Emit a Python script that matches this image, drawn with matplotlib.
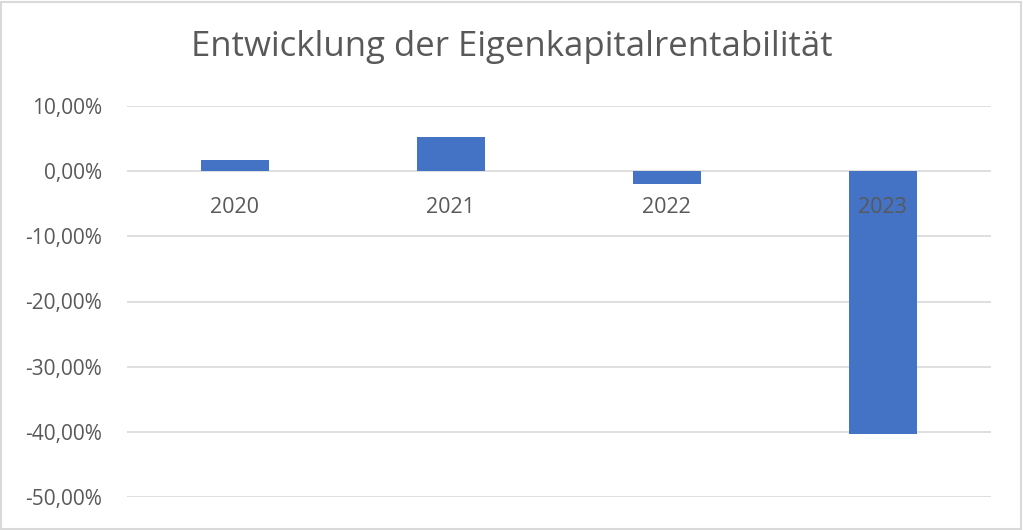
import matplotlib
matplotlib.use("Agg")
import matplotlib.pyplot as plt
import matplotlib.transforms as mtransforms
from matplotlib.patches import Rectangle
from matplotlib.ticker import FuncFormatter

# Eigenkapitalrentabilität in Prozent
years = ["2020", "2021", "2022", "2023"]
roe = [1.7, 5.2, -2.0, -40.25]
y_ticks = [10, 0, -10, -20, -30, -40, -50]

plt.rcParams["font.family"] = ["Open Sans", "DejaVu Sans"]
text_col = "#595959"

fig = plt.figure(figsize=(10.23, 5.30), dpi=100)
ax = fig.add_axes([126.7 / 1023, 1 - 497.3 / 530, 864 / 1023, 391.6 / 530])

x = range(len(years))
ax.bar(x, roe, width=0.313, color="#4472C4", zorder=2)

ax.set_xlim(-0.5, len(years) - 0.5)
ax.set_ylim(-50, 10)
ax.set_yticks(y_ticks)
ax.yaxis.set_major_formatter(FuncFormatter(lambda v, p: f"{v:.2f}%".replace(".", ",")))
ax.tick_params(axis="y", length=0, pad=18, labelsize=15, labelcolor=text_col)
ax.set_xticks([])
ax.grid(axis="y", color="#D9D9D9", linewidth=1.2, zorder=0)
for s in ax.spines.values():
    s.set_visible(False)

# Kategorienbeschriftung direkt unter der Nulllinie
trans = mtransforms.offset_copy(ax.transData, fig=fig, x=0, y=-26, units="points")
for i, yr in enumerate(years):
    ax.text(i, 0, yr, transform=trans, ha="center", va="center",
            fontsize=15.5, color=text_col, zorder=3)

fig.text(0.5, 1 - 47 / 530, "Entwicklung der Eigenkapitalrentabilität",
         ha="center", va="center", fontsize=25, color=text_col)

fig.patches.append(Rectangle((0.001, 0.002), 0.997, 0.995, transform=fig.transFigure,
                             fill=False, edgecolor="#D9D9D9", linewidth=1.5))

fig.savefig("out.png", dpi=100)
